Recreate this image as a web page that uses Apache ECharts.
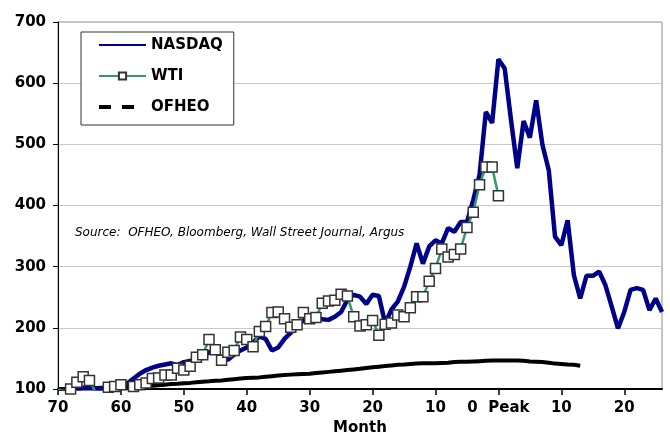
<!DOCTYPE html>
<html><head><meta charset="utf-8">
<script src="https://cdn.jsdelivr.net/npm/echarts@6/dist/echarts.min.js"></script>
<style>html,body{margin:0;padding:0;background:#fff}#c{width:670px;height:436px}</style>
</head><body><div id="c"></div>
<script>
// x axis: months relative to the NASDAQ peak (negative = before peak)
const xTickValues = [-70, -60, -50, -40, -30, -20, -10, 0, 10, 20];
const xPeakLabel = '0  Peak';
const yTickValues = [100, 200, 300, 400, 500, 600, 700];

// NASDAQ, monthly, first point at month -67
const nasdaqStartMonth = -67;
const nasdaqValues = [
  101, 102, 102, 101, 101, 102, 103, 105, 109, 117,
  125, 131, 135, 138, 140, 142, 139, 144, 146, 148,
  153, 160, 163, 150, 148, 156, 163, 168, 176, 186,
  182, 163, 168, 182, 192, 202, 212, 218, 217, 214,
  213, 218, 226, 246, 254, 251, 239, 254, 252, 207,
  230, 243, 267, 300, 338, 305, 333, 343, 338, 363,
  357, 373, 373, 409, 450, 553, 535, 639, 624, 540,
  461, 538, 511, 572, 499, 458, 349, 335, 376, 286,
  248, 285, 285, 292, 270, 235, 199, 226, 262, 265,
  262, 229, 248, 226
];

// WTI, monthly, first point at month -70 (values below 100 fall under the axis)
const wtiStartMonth = -70;
const wtiValues = [
  99, 97, 100, 111, 120, 114, 94, 94, 103, 104,
  107, 95, 104, 107, 110, 117, 118, 123, 123, 134,
  131, 137, 152, 156, 181, 164, 147, 160, 163, 185,
  181, 169, 194, 202, 225, 226, 215, 201, 205, 225,
  215, 217, 240, 244, 245, 255, 252, 218, 203, 205,
  212, 188, 206, 208, 221, 218, 233, 251, 251, 276,
  297, 329, 316, 320, 329, 364, 389, 434, 463, 463,
  416
];

// OFHEO house price index, monthly, first point at month -70
const ofheoStartMonth = -70;
const ofheoValues = [
  100, 100, 100.5, 101, 101, 101, 101.5, 102, 102, 102,
  102.5, 103, 103.5, 104, 104.5, 105.5, 106, 107, 108, 108.5,
  109.5, 110, 111, 112, 112.5, 113.5, 114, 115, 116, 117,
  118, 118.5, 119, 120, 121, 122, 123, 123.5, 124, 124.5,
  125, 126, 127, 128, 129, 130, 131, 132, 133, 134.5,
  135.5, 136.5, 137.5, 138.5, 139.5, 140, 141, 141.5, 142, 142,
  142, 142.5, 143, 144, 144.5, 144.5, 145, 145.5, 146, 146.5,
  146.5, 146.5, 146.5, 146.5, 146, 145, 144.5, 144, 143, 141.5,
  141, 140, 139.5, 138
];

const sourceNote = 'Source:  OFHEO, Bloomberg, Wall Street Journal, Argus';

function pairs(start, vals) { return vals.map((v, i) => [start + i, v]); }

const FONT = '"DejaVu Sans", "Liberation Sans", Arial, sans-serif';
const chart = echarts.init(document.getElementById('c'), null, {renderer: 'canvas'});
chart.setOption({
  animation: false,
  backgroundColor: '#fff',
  grid: {left: 58, top: 22, right: 8, bottom: 47, containLabel: false, outerBoundsMode: 'none',
         show: true, borderColor: '#8a8a8a', borderWidth: 1, backgroundColor: 'transparent'},
  xAxis: {
    type: 'value', min: -70, max: 26, interval: 10,
    name: 'Month', nameLocation: 'middle', nameGap: 29,
    nameTextStyle: {fontFamily: FONT, fontWeight: 'bold', fontSize: 15, color: '#000'},
    axisLine: {show: true, onZero: false, lineStyle: {color: '#000', width: 2}},
    axisTick: {show: true, length: 6, customValues: xTickValues, lineStyle: {color: '#000', width: 1.5}},
    axisLabel: {customValues: xTickValues, margin: 12, fontFamily: FONT, fontWeight: 'bold', fontSize: 15, color: '#000',
      formatter: v => v === 0 ? xPeakLabel : String(Math.abs(v))},
    splitLine: {show: false}
  },
  yAxis: {
    type: 'value', min: 100, max: 700, interval: 100,
    axisLine: {show: true, onZero: false, lineStyle: {color: '#000', width: 1}},
    axisTick: {show: true, length: 5, lineStyle: {color: '#000', width: 1}},
    axisLabel: {margin: 12, fontFamily: FONT, fontWeight: 'bold', fontSize: 15, color: '#000',
      customValues: yTickValues},
    splitLine: {show: true, lineStyle: {color: '#c8c8c8', width: 1}}
  },
  legend: {
    orient: 'vertical', left: 81, top: 32,
    padding: [5.5, 11, 10.5, 16],
    itemWidth: 47, itemHeight: 9, itemGap: 16,
    backgroundColor: '#fff', borderColor: '#333', borderWidth: 1, borderRadius: 0,
    selectedMode: false,
    textStyle: {fontFamily: FONT, fontWeight: 'bold', fontSize: 15, color: '#000'},
    data: [
      {name: 'NASDAQ', itemStyle: {opacity: 0}},
      {name: 'WTI'},
      {name: 'OFHEO', itemStyle: {opacity: 0}, lineStyle: {type: [12, 11, 12, 40], width: 4}}
    ]
  },
  graphic: [{
    type: 'text', x: 75, y: 233,
    style: {text: sourceNote, fontFamily: FONT, fontStyle: 'italic', fontSize: 12, fill: '#000', verticalAlign: 'middle'}
  }],
  series: [
    {name: 'OFHEO', type: 'line', data: pairs(ofheoStartMonth, ofheoValues), symbol: 'none', clip: true,
     color: '#000', lineStyle: {color: '#000', width: 4}, z: 2},
    {name: 'NASDAQ', type: 'line', data: pairs(nasdaqStartMonth, nasdaqValues), symbol: 'none', clip: true,
     color: '#000088', lineStyle: {color: '#000088', width: 4.5}, z: 3},
    {name: 'WTI', type: 'line', data: pairs(wtiStartMonth, wtiValues), symbol: 'rect', symbolSize: 10, showSymbol: true, clip: true,
     color: '#339966', lineStyle: {color: '#339966', width: 2.5},
     itemStyle: {color: '#fff', borderColor: '#333', borderWidth: 1.5}, z: 4}
  ]
});
</script></body></html>
